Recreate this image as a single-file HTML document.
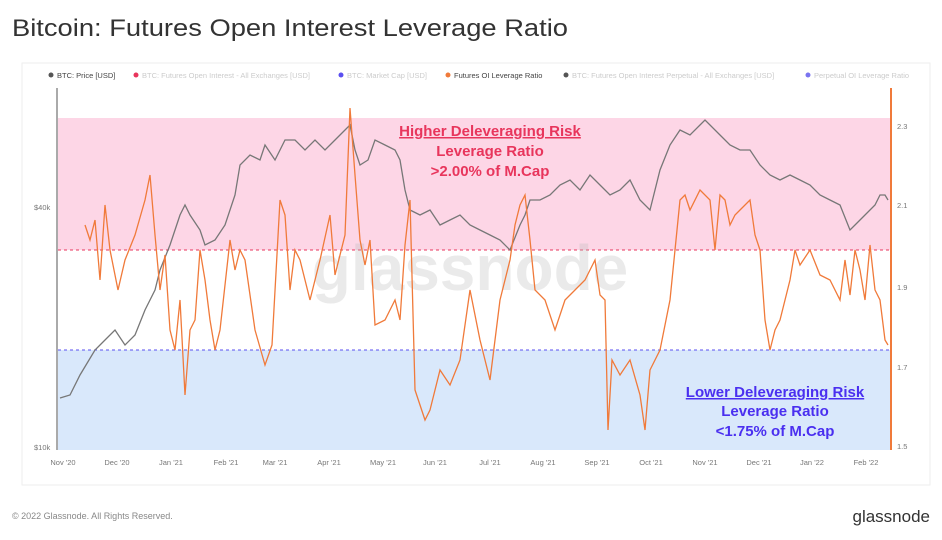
<!DOCTYPE html>
<html><head><meta charset="utf-8"><style>
body{margin:0;background:#fff;width:942px;height:535px;overflow:hidden;font-family:"Liberation Sans",sans-serif}
</style></head><body>
<svg width="942" height="535" xmlns="http://www.w3.org/2000/svg" font-family="Liberation Sans, sans-serif">
<text x="12" y="36" font-size="24" fill="#333" textLength="556" lengthAdjust="spacingAndGlyphs">Bitcoin: Futures Open Interest Leverage Ratio</text>
<rect x="22" y="63" width="908" height="422" fill="#fff" stroke="#eee"/>
<g font-size="7.5">
<circle cx="51" cy="75" r="2.5" fill="#555"/><text x="57" y="78" fill="#444">BTC: Price [USD]</text>
<circle cx="136" cy="75" r="2.5" fill="#e8355c"/><text x="142" y="78" fill="#ccc">BTC: Futures Open Interest - All Exchanges [USD]</text>
<circle cx="341" cy="75" r="2.5" fill="#5a4ff0"/><text x="347" y="78" fill="#ccc">BTC: Market Cap [USD]</text>
<circle cx="448" cy="75" r="2.5" fill="#f07a3a"/><text x="454" y="78" fill="#444">Futures OI Leverage Ratio</text>
<circle cx="566" cy="75" r="2.5" fill="#555"/><text x="572" y="78" fill="#ccc">BTC: Futures Open Interest Perpetual - All Exchanges [USD]</text>
<circle cx="808" cy="75" r="2.5" fill="#7a74f0"/><text x="814" y="78" fill="#ccc">Perpetual OI Leverage Ratio</text>
</g>
<rect x="58" y="118" width="832" height="132" fill="#fdd6e6"/>
<rect x="58" y="350" width="832" height="100" fill="#d9e8fb"/>
<line x1="58" y1="250" x2="890" y2="250" stroke="#e8355c" stroke-dasharray="3,3"/>
<line x1="58" y1="350" x2="890" y2="350" stroke="#5a4ff0" stroke-dasharray="3,3"/>
<line x1="57" y1="88" x2="57" y2="450" stroke="#555"/>
<line x1="891" y1="88" x2="891" y2="450" stroke="#f07a3a" stroke-width="2"/>
<text x="470" y="290" font-size="64" fill="#bbb" opacity="0.3" text-anchor="middle" font-weight="bold">glassnode</text>
<g font-size="7.5" fill="#777">
<text x="34" y="210">$40k</text><text x="34" y="450">$10k</text>
<text x="897" y="129">2.3</text><text x="897" y="208">2.1</text><text x="897" y="290">1.9</text><text x="897" y="370">1.7</text><text x="897" y="449">1.5</text>
</g>
<g font-size="7.5" fill="#777" text-anchor="middle">
<text x="63" y="465">Nov '20</text><text x="117" y="465">Dec '20</text><text x="171" y="465">Jan '21</text><text x="226" y="465">Feb '21</text><text x="275" y="465">Mar '21</text><text x="329" y="465">Apr '21</text><text x="383" y="465">May '21</text><text x="435" y="465">Jun '21</text><text x="490" y="465">Jul '21</text><text x="543" y="465">Aug '21</text><text x="597" y="465">Sep '21</text><text x="651" y="465">Oct '21</text><text x="705" y="465">Nov '21</text><text x="759" y="465">Dec '21</text><text x="812" y="465">Jan '22</text><text x="866" y="465">Feb '22</text>
</g>
<polyline fill="none" stroke="#777" stroke-width="1.3" points="60,398 70,395 80,375 95,350 105,340 115,330 125,345 135,335 145,310 155,290 160,270 170,245 180,215 185,205 190,215 200,230 205,245 215,240 225,225 235,195 240,165 250,155 260,160 265,145 275,160 285,140 295,140 305,150 315,140 325,150 335,140 345,130 350,125 355,150 360,165 368,160 375,140 385,145 395,150 400,160 405,190 410,210 420,215 430,210 440,225 450,220 460,215 470,225 480,230 490,235 500,240 510,250 520,225 525,215 530,200 540,200 550,195 560,185 570,180 580,190 590,175 600,185 610,195 620,190 630,180 640,200 650,210 660,170 670,145 680,130 690,135 700,125 705,120 710,125 720,135 730,145 740,150 750,150 760,165 770,175 780,180 790,175 800,180 810,185 820,195 830,200 840,205 850,230 855,225 865,215 875,205 880,195 885,195 888,200"/>
<polyline fill="none" stroke="#f07a3a" stroke-width="1.3" points="85,225 90,240 95,220 100,280 105,205 110,250 118,290 125,260 135,235 145,200 150,175 155,235 160,290 165,255 170,330 175,350 180,300 185,395 190,330 195,320 200,250 205,280 210,320 215,350 220,330 230,240 235,270 240,250 245,260 255,330 265,365 272,345 280,200 285,215 290,290 295,250 300,260 310,300 320,260 330,215 335,275 345,235 350,108 355,175 360,240 365,265 370,240 375,325 385,320 395,300 400,320 405,245 410,200 415,390 425,420 430,410 440,370 450,385 460,360 470,290 480,340 490,380 500,300 510,260 515,225 520,205 525,195 530,240 535,290 545,300 555,330 565,300 575,290 585,280 595,260 600,295 605,300 608,430 612,360 620,375 630,360 640,395 645,430 650,370 660,350 670,300 675,250 680,200 685,195 690,210 700,190 710,200 715,250 720,195 725,200 730,225 735,215 740,210 750,200 755,235 760,250 765,320 770,350 775,330 780,320 790,280 795,250 800,265 810,250 820,275 830,280 840,300 845,260 850,295 855,250 860,270 865,300 870,245 875,290 880,300 885,340 888,345"/>
<g font-weight="bold" text-anchor="middle" font-size="15">
<text x="490" y="136" fill="#e8355c" text-decoration="underline">Higher Deleveraging Risk</text>
<text x="490" y="156" fill="#e8355c">Leverage Ratio</text>
<text x="490" y="176" fill="#e8355c">&gt;2.00% of M.Cap</text>
<text x="775" y="397" fill="#4a2ff0" text-decoration="underline">Lower Deleveraging Risk</text>
<text x="775" y="416" fill="#4a2ff0">Leverage Ratio</text>
<text x="775" y="436" fill="#4a2ff0">&lt;1.75% of M.Cap</text>
</g>
<text x="12" y="519" font-size="9" fill="#888">© 2022 Glassnode. All Rights Reserved.</text>
<text x="930" y="522" font-size="17" fill="#333" text-anchor="end">glassnode</text>
</svg>
</body></html>
